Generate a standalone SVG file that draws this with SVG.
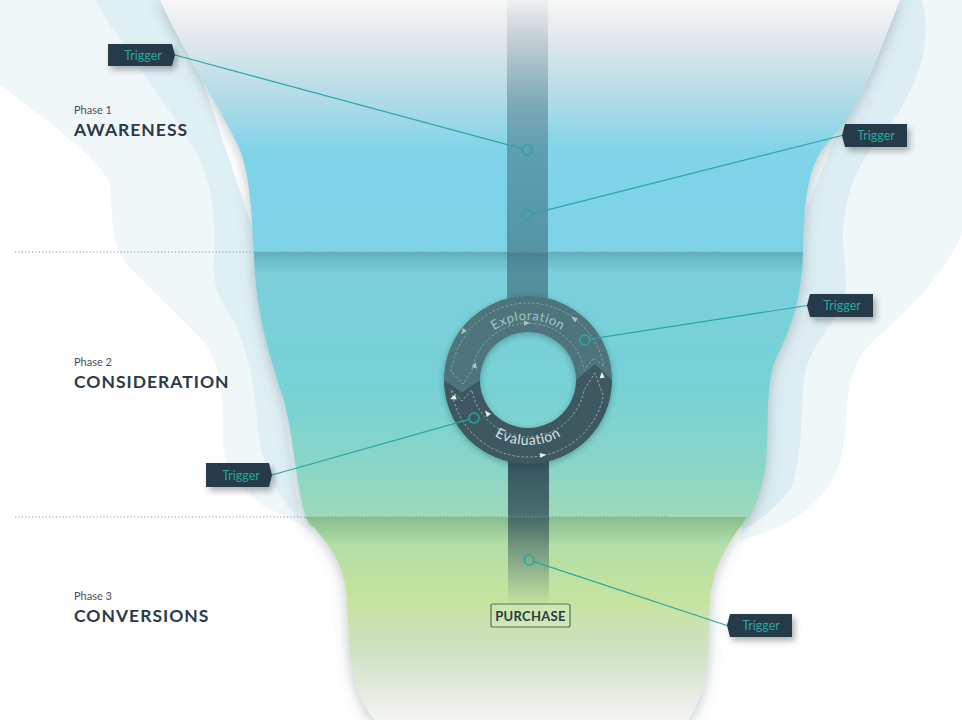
<svg xmlns="http://www.w3.org/2000/svg" width="962" height="720" viewBox="0 0 962 720">
<defs>
<style>
.phase{font-family:Lato,"Open Sans","Liberation Sans",sans-serif;font-size:11px;fill:#4a4f52}
.head{font-family:Lato,"Open Sans","Liberation Sans",sans-serif;font-size:17.5px;font-weight:700;fill:#2b3a44;letter-spacing:1px}
.tag{fill:#253a48;filter:url(#tsh)}
.tagt{font-family:Lato,"Open Sans","Liberation Sans",sans-serif;font-size:12.5px;fill:#2aa6a0;text-anchor:middle}
.con{stroke:#2aa6a0;stroke-width:1.2;fill:none}
.dot{stroke:#2aa6a0;stroke-width:1.5;fill:none}
.div{stroke:#7d9aa2;stroke-width:1;stroke-dasharray:1.2 2.2}
.dash{fill:none;stroke-width:0.8;stroke-dasharray:2.5 2}
</style>
<linearGradient id="gTop" x1="0" y1="0" x2="0" y2="262" gradientUnits="userSpaceOnUse">
<stop offset="0" stop-color="#f7f7f7"/>
<stop offset="0.15" stop-color="#e1e8eb"/>
<stop offset="0.38" stop-color="#b0dbe8"/>
<stop offset="0.58" stop-color="#80d3e9"/>
<stop offset="1" stop-color="#7cd2e6"/>
</linearGradient>
<linearGradient id="gMid" x1="0" y1="252" x2="0" y2="527" gradientUnits="userSpaceOnUse">
<stop offset="0" stop-color="#7ccfdd"/>
<stop offset="0.5" stop-color="#77d2d6"/>
<stop offset="0.8" stop-color="#8bd6c6"/>
<stop offset="1" stop-color="#a3dab5"/>
</linearGradient>
<linearGradient id="gBot" x1="0" y1="517" x2="0" y2="720" gradientUnits="userSpaceOnUse">
<stop offset="0" stop-color="#a9dcab"/>
<stop offset="0.4" stop-color="#c6e39e"/>
<stop offset="0.68" stop-color="#d0e2c6"/>
<stop offset="1" stop-color="#f4f4f4"/>
</linearGradient>
<linearGradient id="gShM" x1="0" y1="252" x2="0" y2="274" gradientUnits="userSpaceOnUse">
<stop offset="0" stop-color="#2b6c7a" stop-opacity="0.32"/>
<stop offset="1" stop-color="#2b6c7a" stop-opacity="0"/>
</linearGradient>
<linearGradient id="gShB" x1="0" y1="517" x2="0" y2="545" gradientUnits="userSpaceOnUse">
<stop offset="0" stop-color="#3f7a52" stop-opacity="0.32"/>
<stop offset="1" stop-color="#3f7a52" stop-opacity="0"/>
</linearGradient>
<linearGradient id="gStem" x1="0" y1="0" x2="0" y2="300" gradientUnits="userSpaceOnUse">
<stop offset="0" stop-color="#2f5866" stop-opacity="0.04"/>
<stop offset="0.35" stop-color="#2f5866" stop-opacity="0.38"/>
<stop offset="1" stop-color="#2f5866" stop-opacity="0.55"/>
</linearGradient>
<linearGradient id="gStem2" x1="0" y1="450" x2="0" y2="605" gradientUnits="userSpaceOnUse">
<stop offset="0" stop-color="#34505a" stop-opacity="1"/>
<stop offset="0.4" stop-color="#34505a" stop-opacity="0.8"/>
<stop offset="1" stop-color="#34505a" stop-opacity="0"/>
</linearGradient>
<filter id="fsh" x="-10%" y="-10%" width="120%" height="120%">
<feDropShadow dx="0" dy="2" stdDeviation="7" flood-color="#5b6f78" flood-opacity="0.42"/>
</filter>
<filter id="tsh" x="-20%" y="-30%" width="150%" height="180%">
<feDropShadow dx="3" dy="4" stdDeviation="3" flood-color="#000" flood-opacity="0.3"/>
</filter>
<filter id="rsh" x="-20%" y="-20%" width="140%" height="140%">
<feDropShadow dx="0" dy="2" stdDeviation="3" flood-color="#1c3138" flood-opacity="0.35"/>
</filter>
<path id="arcTop" d="M 471.6,359.5 A 60 60 0 0 1 584.4,359.5"/>
<path id="arcBot" d="M 466.9,402.2 A 65 65 0 0 0 589.1,402.2"/>
<path id="tri" d="M-3,-2.6 L3.2,0 L-3,2.6 Z"/>
</defs>

<rect width="962" height="720" fill="#ffffff"/>

<g id="background">
<path d="M 0,0 L 175,0 L 260,250 L 310,530 L 262,505 C 230,480 222,460 223,430 C 224,390 218,360 205,343 C 185,320 150,290 125,262 C 112,245 112,215 110,185 C 100,160 60,130 0,85 Z" fill="#f0f7f9"/>
<path d="M 95,0 L 175,0 L 260,250 L 300,520 C 280,500 262,470 258,430 C 255,390 250,360 236,325 C 222,300 212,290 214,260 C 216,220 212,185 200,160 C 180,120 130,60 95,0 Z" fill="#dff0f5"/>
<path d="M 880,0 L 962,0 L 962,235 C 945,270 920,300 880,335 C 855,355 848,380 846,420 C 845,460 835,490 800,515 C 780,528 760,535 740,540 L 760,300 Z" fill="#f0f7f9"/>
<path d="M 890,0 L 922,0 C 932,40 922,80 890,125 C 860,160 843,190 843,240 C 845,275 850,290 840,310 C 825,335 808,350 804,380 C 800,420 803,460 790,490 C 775,510 760,520 742,530 L 790,250 Z" fill="#dcedf3"/>
</g>

<g id="funnel">
<g filter="url(#fsh)">
<path d="M 160,0 L 900,0 C 880,50 860,110 830,140 C 810,160 804,190 803,254 L 254,254 C 251,200 249,175 240,150 C 230,125 185,55 160,0 Z" fill="url(#gTop)"/>
<path d="M 254,252 L 803,252 C 802,300 790,330 776,358 C 764,385 770,440 765,470 C 760,500 752,515 742,527 L 310,527 C 296,500 296,440 282,395 C 268,350 255,310 254,252 Z" fill="url(#gMid)"/>
<path d="M 305,517 L 747,517 C 735,535 713,560 710,600 C 707,640 713,685 688,720 L 375,720 C 348,690 349,640 347,600 C 345,560 325,540 305,517 Z" fill="url(#gBot)"/>
</g>
<path d="M 254,252 L 803,252 C 802,300 790,330 776,358 L 270,358 C 262,330 255,300 254,252 Z" fill="url(#gShM)"/>
<path d="M 305,517 L 747,517 C 735,535 720,550 715,560 L 338,560 C 330,545 320,535 305,517 Z" fill="url(#gShB)"/>
</g>

<g id="stem">
<rect x="507" y="0" width="41" height="310" fill="url(#gStem)"/>
<rect x="508" y="440" width="41" height="165" fill="url(#gStem2)"/>
</g>

<g id="dividers">
<line class="div" x1="15" y1="252" x2="720" y2="252"/>
<line class="div" x1="15" y1="517" x2="670" y2="517"/>
</g>

<g id="labels">
<text class="phase" x="74" y="114">Phase 1</text>
<text class="head" x="74" y="136">AWARENESS</text>
<text class="phase" x="74" y="366">Phase 2</text>
<text class="head" x="74" y="388">CONSIDERATION</text>
<text class="phase" x="74" y="600">Phase 3</text>
<text class="head" x="74" y="622">CONVERSIONS</text>
</g>

<g id="cycle" filter="url(#rsh)">
<path d="M 444,380 A 84 84 0 0 1 612,380 L 595,364 L 576,380 A 48 48 0 0 0 480,380 L 462,392 Z" fill="#4f747c"/>
<path d="M 444,380 L 462,392 L 480,380 A 48 48 0 0 0 576,380 L 595,364 L 612,380 A 84 84 0 0 1 444,380 Z" fill="#3c5860"/>
</g>
<g id="cycle-detail">
<path class="dash" stroke="#8fb0b2" d="M 451.4,372 A 77 77 0 0 1 603.8,366.6 L 594,358 L 584.1,370.1 A 57 57 0 0 0 471.9,370.1 L 463,384 Z"/>
<path class="dash" stroke="#a9bfc0" d="M 451.7,390.7 A 77 77 0 0 0 603.3,396 L 595,373 L 584.1,389.9 A 57 57 0 0 1 471.9,389.9 L 462,401 Z"/>
<g fill="#a4c4c4">
<use href="#tri" transform="translate(527,323)"/>
<use href="#tri" transform="translate(574,318.5) rotate(-143)"/>
<use href="#tri" transform="translate(463,332) rotate(126)"/>
<use href="#tri" transform="translate(475,365) rotate(-74)"/>
</g>
<g fill="#e6eeee">
<use href="#tri" transform="translate(543,455) rotate(-11)"/>
<use href="#tri" transform="translate(602,375) rotate(-94)"/>
<use href="#tri" transform="translate(487,413) rotate(-129)"/>
<use href="#tri" transform="translate(453,398) rotate(160)"/>
</g>
<text font-family="Lato,'Open Sans','Liberation Sans',sans-serif" font-size="13" fill="#a2c3c1" letter-spacing="0.6"><textPath href="#arcTop" startOffset="50%" text-anchor="middle">Exploration</textPath></text>
<text font-family="Lato,'Open Sans','Liberation Sans',sans-serif" font-size="14" fill="#d8e4e4" letter-spacing="0.6"><textPath href="#arcBot" startOffset="50%" text-anchor="middle">Evaluation</textPath></text>
</g>

<g id="connectors">
<line class="con" x1="175" y1="55" x2="522.2" y2="148.7"/>
<line class="con" x1="842" y1="135.5" x2="531.8" y2="213.8"/>
<line class="con" x1="807" y1="305.5" x2="589.9" y2="339.2"/>
<line class="con" x1="272" y1="475" x2="469.2" y2="419.4"/>
<line class="con" x1="727" y1="625.5" x2="533.8" y2="561.6"/>
<circle class="dot" cx="527" cy="150" r="5"/>
<circle class="dot" cx="527" cy="215" r="5"/>
<circle class="dot" cx="585" cy="340" r="5"/>
<circle class="dot" cx="474" cy="418" r="5"/>
<circle class="dot" cx="529" cy="560" r="5"/>
</g>

<g id="trigger1">
<path class="tag" d="M108,44 H172 L175,55 L172,66 H108 Z"/>
<text class="tagt" x="143" y="59.5">Trigger</text>
</g>
<g id="trigger2">
<path class="tag" d="M845,124 H907 V147 H845 L842,135.5 Z"/>
<text class="tagt" x="876" y="140">Trigger</text>
</g>
<g id="trigger3">
<path class="tag" d="M810,294 H873 V317 H810 L807,305.5 Z"/>
<text class="tagt" x="842" y="310">Trigger</text>
</g>
<g id="trigger4">
<path class="tag" d="M206,463 H269 L272,475 L269,487 H206 Z"/>
<text class="tagt" x="241" y="479.5">Trigger</text>
</g>
<g id="trigger5">
<path class="tag" d="M730,614 H792 V637 H730 L727,625.5 Z"/>
<text class="tagt" x="761" y="630">Trigger</text>
</g>

<g id="purchase">
<rect x="491" y="604" width="79" height="23" rx="2" fill="#ffffff" fill-opacity="0.12" stroke="#55705e" stroke-width="1.2"/>
<text x="530.5" y="620.5" text-anchor="middle" font-family="Lato,'Open Sans','Liberation Sans',sans-serif" font-size="13" font-weight="700" fill="#2b3a44" letter-spacing="0.3">PURCHASE</text>
</g>
</svg>
